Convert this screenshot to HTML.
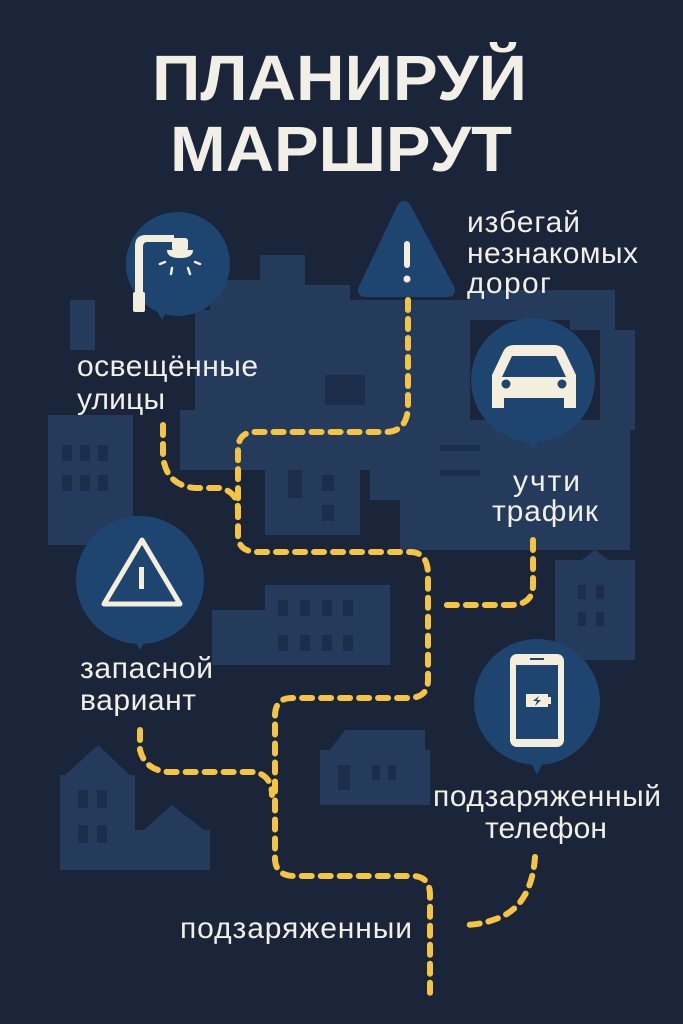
<!DOCTYPE html>
<html><head><meta charset="utf-8"><style>
html,body{margin:0;padding:0;background:#1a2539;}
svg{display:block}
text{font-family:"Liberation Sans","DejaVu Sans",sans-serif;fill:#f2efe6}
</style></head><body>
<svg width="683" height="1024" viewBox="0 0 683 1024" xmlns="http://www.w3.org/2000/svg">
<rect width="683" height="1024" fill="#1a2539"/>
<g fill="#243b5c">
<rect x="70" y="300" width="25" height="50"/>
<rect x="195" y="310" width="160" height="110"/>
<rect x="210" y="280" width="60" height="40"/>
<rect x="260" y="255" width="45" height="70"/>
<rect x="305" y="285" width="45" height="40"/>
<rect x="350" y="300" width="120" height="120"/>
<rect x="470" y="290" width="100" height="30"/>
<rect x="570" y="290" width="45" height="40"/>
<rect x="600" y="330" width="35" height="100"/>
<rect x="48" y="415" width="85" height="130"/>
<rect x="400" y="420" width="230" height="130"/>
<rect x="370" y="440" width="40" height="60"/>
<rect x="180" y="410" width="220" height="60"/>
<rect x="265" y="450" width="95" height="85"/>
<polygon points="268,465 298,440 330,465"/>
<rect x="265" y="585" width="125" height="80"/>
<rect x="212" y="610" width="80" height="55"/>
<rect x="555" y="560" width="80" height="100"/>
<polygon points="555,580 595,550 635,580"/>
<rect x="320" y="750" width="110" height="55"/>
<polygon points="322,760 345,730 425,730 425,760"/>
<rect x="60" y="775" width="75" height="95"/>
<polygon points="60,780 98,745 135,780"/>
<rect x="135" y="830" width="75" height="40"/>
<polygon points="138,835 172,805 210,835"/>
</g>
<g fill="#1c2e4a">
<rect x="325" y="375" width="40" height="30"/><rect x="440" y="445" width="40" height="6"/><rect x="440" y="470" width="40" height="6"/>
<rect x="62" y="445" width="10" height="16"/><rect x="80" y="445" width="10" height="16"/><rect x="98" y="445" width="10" height="16"/>
<rect x="62" y="475" width="10" height="16"/><rect x="80" y="475" width="10" height="16"/><rect x="98" y="475" width="10" height="16"/>
<rect x="288" y="470" width="14" height="28"/><rect x="322" y="475" width="12" height="16"/><rect x="322" y="505" width="12" height="16"/>
<rect x="278" y="600" width="10" height="16"/><rect x="300" y="600" width="10" height="16"/><rect x="322" y="600" width="10" height="16"/><rect x="343" y="600" width="10" height="16"/>
<rect x="278" y="635" width="10" height="16"/><rect x="300" y="635" width="10" height="16"/><rect x="322" y="635" width="10" height="16"/><rect x="343" y="635" width="10" height="16"/>
<rect x="338" y="765" width="12" height="25"/><rect x="372" y="765" width="8" height="15"/><rect x="388" y="765" width="8" height="15"/>
<rect x="78" y="790" width="10" height="18"/><rect x="97" y="790" width="10" height="18"/><rect x="78" y="825" width="10" height="18"/><rect x="97" y="825" width="10" height="18"/>
<rect x="578" y="585" width="8" height="14"/><rect x="596" y="585" width="8" height="14"/><rect x="578" y="612" width="8" height="14"/><rect x="596" y="612" width="8" height="14"/>
</g>
<g fill="#1e4470">
<circle cx="178" cy="264" r="52"/><polygon points="154,306 170,306 162,320"/>
<circle cx="533" cy="380" r="62"/><polygon points="525,436 541,436 533,450"/>
<circle cx="140" cy="580" r="64"/><polygon points="132,636 148,636 140,650"/>
<circle cx="537" cy="702" r="63"/><polygon points="529,758 545,758 537,775"/>
<path d="M404,208 L365,290 L448,290 Z" stroke="#1e4470" stroke-width="14" stroke-linejoin="round"/>
</g>
<g fill="#f4eedd">
<path d="M135,298 V246 Q135,235 146,235 H174 V242 H147 Q143,242 143,247 V298 Z"/>
<rect x="133" y="292" width="12" height="20" rx="2"/>
<path d="M167,250 Q167,258 180,258 Q193,258 193,250 Z"/>
<rect x="172" y="238" width="16" height="13" rx="3"/>
<path d="M492,408 V375 L503,352 Q506,345 514,345 H554 Q562,345 565,352 L576,375 V408 H564 V398 H504 V408 Z"/>
<rect x="510" y="654" width="54" height="93" rx="7"/>
</g>
<g stroke="#f4eedd" stroke-width="2.5" stroke-linecap="round">
<line x1="160" y1="264" x2="165" y2="262"/><line x1="171" y1="274" x2="172" y2="268"/><line x1="188" y1="268" x2="190" y2="274"/><line x1="195" y1="262" x2="200" y2="264"/>
</g>
<path d="M512,356 H556 L566,377 H502 Z" fill="#1e4470"/>
<circle cx="506" cy="384" r="4.5" fill="#1e4470"/><circle cx="562" cy="384" r="4.5" fill="#1e4470"/>
<rect x="516" y="665" width="42" height="74" fill="#1e4470"/>
<rect x="526" y="694" width="22" height="13" fill="#f4eedd"/><rect x="548" y="697" width="3" height="7" fill="#f4eedd"/>
<path d="M539,696 L533,701 H537 L535,706 L541,700 H537 Z" fill="#1e4470"/>
<rect x="530" y="658" width="14" height="2" fill="#1e4470"/>
<path d="M142,540 L104,604 H180 Z" fill="none" stroke="#f4eedd" stroke-width="5" stroke-linejoin="round"/>
<rect x="139" y="567" width="5" height="22" fill="#f4eedd"/>
<rect x="404" y="241" width="6" height="27" rx="3" fill="#f4eedd"/><circle cx="407" cy="279" r="3.5" fill="#f4eedd"/>
<g fill="none" stroke="#f5c542" stroke-width="6" stroke-linecap="round" stroke-dasharray="10 9">
<path d="M408,300 V405 Q408,432 385,432 H255 Q238,432 238,450 V535 Q238,552 258,552 H410 Q428,552 428,575 V680 Q428,698 408,698 H292 Q275,698 275,716 V858 Q275,876 295,876 H412 Q430,876 430,895 V1000"/>
<path d="M533,540 V585 Q533,605 510,605 H440"/>
<path d="M163,425 V455 Q165,485 195,488 H220 Q238,492 238,510"/>
<path d="M140,730 V750 Q145,770 168,772 H255 Q272,776 272,795"/>
<path d="M535,857 Q532,900 505,915 Q485,925 463,925"/>
</g>
<text x="152" y="100" font-size="64" font-weight="bold" textLength="375" lengthAdjust="spacingAndGlyphs">ПЛАНИРУЙ</text>
<text x="170" y="171" font-size="64" font-weight="bold" textLength="342" lengthAdjust="spacingAndGlyphs">МАРШРУТ</text>
<g font-size="30" lengthAdjust="spacingAndGlyphs">
<text x="77" y="376" textLength="181">освещённые</text>
<text x="77" y="409" textLength="88">улицы</text>
<text x="467" y="232" textLength="113">избегай</text>
<text x="467" y="263" textLength="171">незнакомых</text>
<text x="467" y="293" textLength="84">дорог</text>
<text x="513" y="491" textLength="67">учти</text>
<text x="492" y="521" textLength="106">трафик</text>
<text x="80" y="678" textLength="133">запасной</text>
<text x="80" y="710" textLength="116">вариант</text>
<text x="433" y="806" textLength="228">подзаряженный</text>
<text x="485" y="838" textLength="122">телефон</text>
<text x="180" y="938" textLength="232">подзаряженныи</text>
</g>
</svg>
</body></html>
